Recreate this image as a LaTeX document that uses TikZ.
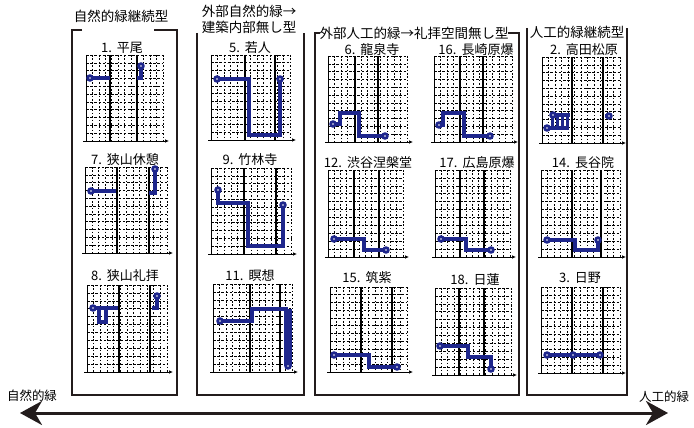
\documentclass[tikz,border=0pt]{standalone}
\usepackage{fontspec}
\newfontfamily\jp{Noto Sans CJK JP}
\usetikzlibrary{arrows.meta}
\definecolor{pathblue}{RGB}{30,38,140}
\definecolor{boxline}{RGB}{35,28,28}
\tikzset{
  boxedge/.style={line width=1.8pt,boxline},
  hgrid/.style={line width=0.6pt,black,dash pattern=on 2.6pt off 1.6pt},
  vgrid/.style={line width=0.6pt,black,dash pattern=on 1.6pt off 1.8pt},
  thickv/.style={line width=1.2pt,black},
  axisline/.style={line width=0.7pt,black},
  route/.style={line width=3.8pt,pathblue,line join=miter},
  ptitle/.style={font=\jp\fontsize{13}{15}\selectfont,inner sep=0pt},
  btitle/.style={font=\jp\fontsize{13.5}{16}\selectfont,inner sep=0pt},
}
\newcommand\gridpanel[6]{%
  \foreach \k in {0,...,10}{\draw[hgrid] (#1,{#2+\k*(#4-#2)/11}) -- (#3,{#2+\k*(#4-#2)/11});}
  \foreach \k in {1,...,12}{\draw[vgrid] ({#1+\k*(#3-#1)/12},#2) -- ({#1+\k*(#3-#1)/12},#4);}
  \draw[axisline] (#1,#2) -- (#1,#4);
  \draw[thickv] (#5,#2) -- (#5,#4);
  \draw[thickv] (#6,#2) -- (#6,#4);
  \draw[axisline,-{Latex[length=4pt,width=3.5pt]}] (#1-3,#4) -- (#3+6,#4);
}
\newcommand\rdot[1]{\fill[pathblue] #1 circle (3.8pt); \fill[white] #1 circle (0.9pt);}
\begin{document}
\begin{tikzpicture}[x=1pt,y=-1pt]
\useasboundingbox (0,0) rectangle (694,428);
\fill[white] (0,0) rectangle (694,428);

% ---- boxes ----
\draw[boxedge] (82,30) -- (72,30) -- (72,395) -- (177,395) -- (177,30) -- (154,30);
\node[btitle] (t1) at (121,16) {自然的緑継続型};
\draw[boxedge] (197,33) -- (197,395) -- (304,395) -- (304,33);
\node[btitle,align=left] (t2) at (249,19) {外部自然的緑→\\建築内部無し型};
\draw[boxedge] (320,33) -- (315,33) -- (315,395) -- (519,395) -- (519,33) -- (508,33);
\node[btitle] (t3) at (414,33) {外部人工的緑→礼拝空間無し型};
\draw[boxedge] (527,28) -- (527,395) -- (627,395) -- (627,28);
\node[btitle] (t4) at (577,32) {人工的緑継続型};

% ---- panels ----
\gridpanel{86}{55}{163}{141}{110}{137}
\gridpanel{85}{167}{167}{253}{117}{149}
\gridpanel{87}{285}{167}{372}{119}{150}
\gridpanel{211}{55}{290}{140}{245}{275}
\gridpanel{211}{168}{291}{254}{244}{276}
\gridpanel{213}{284}{292}{372}{250}{280}
\gridpanel{328}{56}{407}{142}{355}{378}
\gridpanel{434}{56}{512}{142}{460}{483}
\gridpanel{328}{170}{403}{257}{354}{379}
\gridpanel{435}{170}{510}{257}{460}{484}
\gridpanel{330}{287}{407}{372}{361}{392}
\gridpanel{435}{288}{511}{375}{459}{484}
\gridpanel{542}{57}{620}{143}{572}{603}
\gridpanel{541}{170}{620}{257}{572}{601}
\gridpanel{541}{287}{620}{373}{572}{603}

% ---- panel titles ----
\node[ptitle] (p1) at (122,48) {1.\hspace{5pt}平尾};
\node[ptitle] (p7) at (125,160) {7.\hspace{5pt}狭山休憩};
\node[ptitle] (p8) at (125,276) {8.\hspace{5pt}狭山礼拝};
\node[ptitle] (p5) at (250,48) {5.\hspace{5pt}若人};
\node[ptitle] (p9) at (250,160) {9.\hspace{5pt}竹林寺};
\node[ptitle] (p11) at (250,276) {11.\hspace{5pt}瞑想};
\node[ptitle] (p6) at (372,50) {6.\hspace{5pt}龍泉寺};
\node[ptitle] (p16) at (476,50) {16.\hspace{5pt}長崎原爆};
\node[ptitle] (p12) at (368,163) {12.\hspace{5pt}渋谷涅槃堂};
\node[ptitle] (p17) at (477,163) {17.\hspace{5pt}広島原爆};
\node[ptitle] (p15) at (367,278) {15.\hspace{5pt}筑紫};
\node[ptitle] (p18) at (475,280) {18.\hspace{5pt}日蓮};
\node[ptitle] (p2) at (584,50) {2.\hspace{5pt}高田松原};
\node[ptitle] (p14) at (583,163) {14.\hspace{5pt}長谷院};
\node[ptitle] (p3) at (580,278) {3.\hspace{5pt}日野};

% ---- routes ----
% 1
\draw[route] (90,78) -- (110,78); \rdot{(90,78)}
\draw[route] (141,66) -- (141,78) -- (137,78); \rdot{(141,66)}
% 7
\draw[route] (91,191) -- (116,191); \rdot{(91,191)}
\draw[route] (155,169) -- (155,193) -- (149,193); \rdot{(155,169)}
% 8
\draw[route] (93,308) -- (118,308); \rdot{(93,308)}
\draw[route] (99,308) -- (99,322) -- (106,322) -- (106,308);
\draw[route] (157,296) -- (157,308) -- (152,308); \rdot{(157,296)}
% 5
\draw[route] (217,79) -- (249,79) -- (249,135) -- (280,135) -- (280,79); \rdot{(217,79)} \rdot{(280,79)}
% 9
\draw[route] (218,190) -- (218,203) -- (248,203) -- (248,246) -- (283,246) -- (283,205); \rdot{(218,190)} \rdot{(283,205)}
% 11
\draw[route] (220,321) -- (252,321) -- (252,309) -- (286,309) -- (286,366); \rdot{(220,321)}
\draw[route] (290,309) -- (290,366); \rdot{(288,366)}
% 6
\draw[route] (333,124) -- (340,124) -- (340,113) -- (359,113) -- (359,136) -- (385,136); \rdot{(333,124)} \rdot{(385,136)}
% 16
\draw[route] (439,125) -- (443,125) -- (443,113) -- (464,113) -- (464,136) -- (490,136); \rdot{(439,125)} \rdot{(490,136)}
% 12
\draw[route] (334,239) -- (364,239) -- (364,250) -- (386,250); \rdot{(334,239)} \rdot{(386,250)}
% 17
\draw[route] (441,239) -- (466,239) -- (466,250) -- (491,250); \rdot{(441,239)} \rdot{(491,250)}
% 15
\draw[route] (334,355) -- (369,355) -- (369,367) -- (397,367); \rdot{(334,355)} \rdot{(397,367)}
% 18
\draw[route] (440,346) -- (468,346) -- (468,357) -- (491,357) -- (491,369); \rdot{(440,346)} \rdot{(491,369)}
% 2
\draw[route] (547,128) -- (569,128);
\draw[route] (552,115) -- (570,115);
\foreach \xx in {552,557,562,567}{\draw[route,line width=3pt] (\xx,115) -- (\xx,128);}
\rdot{(547,128)} \rdot{(553,115)}
\draw[route] (605,116) -- (609,116); \rdot{(609,116)}
% 14
\draw[route] (547,240) -- (575,240) -- (575,250) -- (598,250) -- (598,240); \rdot{(547,240)} \rdot{(598,240)}
% 3
\draw[route] (547,355) -- (600,355); \rdot{(547,355)} \rdot{(573,355)} \rdot{(600,355)}

% ---- bottom axis ----
\node[ptitle,font=\jp\fontsize{12.5}{14}\selectfont] (nat) at (32,396) {自然的緑};
\node[ptitle,font=\jp\fontsize{12.5}{14}\selectfont] (art) at (664,397) {人工的緑};
\coordinate (al) at (20,413);
\coordinate (ar) at (668,413);
\draw[line width=3pt,boxline,{Stealth[length=22pt,width=24pt,inset=7pt]}-{Stealth[length=22pt,width=24pt,inset=7pt]}] (al) -- (ar);
\end{tikzpicture}
\end{document}
